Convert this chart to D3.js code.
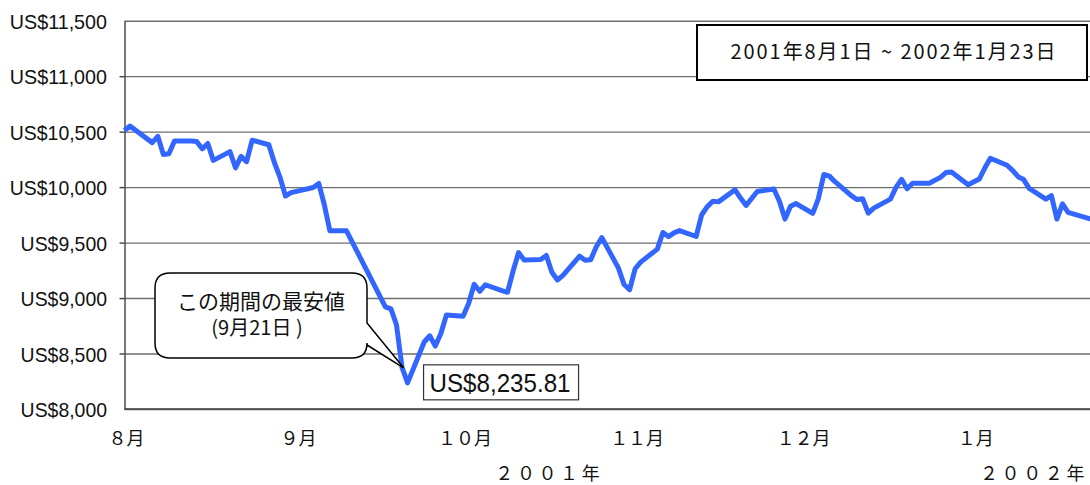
<!DOCTYPE html>
<html><head><meta charset="utf-8">
<script src="https://cdn.jsdelivr.net/npm/d3@7"></script>
<style>body{margin:0;overflow:hidden;background:#fff}</style>
</head><body><svg id="c" width="1090" height="485"></svg>
<script>
// ---- data ----
const dates = [
"2001-08-01","2001-08-02","2001-08-03","2001-08-06","2001-08-07","2001-08-08","2001-08-09","2001-08-10",
"2001-08-13","2001-08-14","2001-08-15","2001-08-16","2001-08-17","2001-08-20","2001-08-21","2001-08-22",
"2001-08-23","2001-08-24","2001-08-27","2001-08-28","2001-08-29","2001-08-30","2001-08-31",
"2001-09-04","2001-09-05","2001-09-06","2001-09-07","2001-09-10","2001-09-17","2001-09-18","2001-09-19",
"2001-09-20","2001-09-21","2001-09-24","2001-09-25","2001-09-26","2001-09-27","2001-09-28",
"2001-10-01","2001-10-02","2001-10-03","2001-10-04","2001-10-05","2001-10-08","2001-10-09","2001-10-10",
"2001-10-11","2001-10-12","2001-10-15","2001-10-16","2001-10-17","2001-10-18","2001-10-19","2001-10-22",
"2001-10-23","2001-10-24","2001-10-25","2001-10-26","2001-10-29","2001-10-30","2001-10-31",
"2001-11-01","2001-11-02","2001-11-05","2001-11-06","2001-11-07","2001-11-08","2001-11-09","2001-11-12",
"2001-11-13","2001-11-14","2001-11-15","2001-11-16","2001-11-19","2001-11-20","2001-11-21","2001-11-23",
"2001-11-26","2001-11-27","2001-11-28","2001-11-29","2001-11-30",
"2001-12-03","2001-12-04","2001-12-05","2001-12-06","2001-12-07","2001-12-10","2001-12-11","2001-12-12",
"2001-12-13","2001-12-14","2001-12-17","2001-12-18","2001-12-19","2001-12-20","2001-12-21","2001-12-24",
"2001-12-26","2001-12-27","2001-12-28","2001-12-31",
"2002-01-02","2002-01-03","2002-01-04","2002-01-07","2002-01-08","2002-01-09","2002-01-10","2002-01-11",
"2002-01-14","2002-01-15","2002-01-16","2002-01-17","2002-01-18","2002-01-22","2002-01-23"
];
const values = [
10510,10551,10513,10401,10458,10294,10300,10416,
10416,10412,10345,10393,10241,10320,10174,10277,
10229,10423,10382,10222,10091,9920,9950,
9997,10033,9841,9606,9606,8921,8903,8759,
8376,8235.81,8604,8660,8567,8681,8848,
8837,8951,9124,9061,9120,9068,9052,9241,
9410,9344,9348,9384,9233,9163,9204,9377,
9340,9346,9463,9545,9270,9122,9075,
9264,9324,9441,9591,9554,9588,9608,9555,
9751,9824,9872,9867,9976,9901,9835,9960,
9983,9873,9712,9827,9852,
9764,9894,10114,10099,10049,9921,9888,9895,
9766,9811,9892,9998,10070,9985,10035,10035,
10088,10131,10137,10022,
10073,10172,10260,10197,10151,10094,10068,9988,
9891,9924,9712,9850,9772,9714,9731
];
const monthTicks = ["2001-08-01","2001-09-01","2001-10-01","2001-11-01","2001-12-01","2002-01-01"];
const monthLabels = ["８月","９月","１０月","１１月","１２月","１月"];
const yearStarts = ["2001-08-01","2002-01-01"];
const yearEnds = ["2001-12-31","2002-01-23"];
const yearLabels = ["２００１年","２００２年"];
const yTicks = [8000,8500,9000,9500,10000,10500,11000,11500];
const yTickLabels = ["US$8,000","US$8,500","US$9,000","US$9,500","US$10,000","US$10,500","US$11,000","US$11,500"];
const lowDate = "2001-09-21";
const lowValue = 8235.81;
const lowLabel = "US$8,235.81";
const calloutLines = ["この期間の最安値","(9月21日 )"];
const periodText = "2001年8月1日 ~ 2002年1月23日";

// ---- layout ----
const parse = d3.utcParse("%Y-%m-%d");
const pLeft = 124.5, pRight = 1095.8, pTop = 20.7, pBottom = 409;
const x = d3.scaleUtc().domain([parse(dates[0]), parse(dates[dates.length-1])]).range([pLeft, pRight]);
const y = d3.scaleLinear().domain([8000, 11500]).range([pBottom, pTop]);
const svg = d3.select("#c");
const yFont = "'Liberation Sans', Arial, sans-serif";
const jFont = "'Noto Sans CJK JP', sans-serif";

// gridlines
svg.append("g").attr("transform", `translate(${pLeft},0)`)
  .call(d3.axisLeft(y).tickValues(yTicks).tickSize(-(pRight - pLeft)).tickFormat(""))
  .call(g => g.select(".domain").remove())
  .call(g => g.selectAll("line").attr("stroke", "#6e6e6e").attr("stroke-width", 1.4));

// y axis with outward ticks and labels
const yAxis = svg.append("g").attr("transform", `translate(${pLeft},0)`)
  .call(d3.axisLeft(y).tickValues(yTicks).tickSize(5).tickPadding(12).tickSizeOuter(0)
    .tickFormat((d, i) => yTickLabels[i]));
yAxis.select(".domain").attr("stroke", "#404040").attr("stroke-width", 1.4);
yAxis.selectAll(".tick line").attr("stroke", "#404040").attr("stroke-width", 1.4)
  .attr("x2", d => (d === 8000 || d === 11500) ? 0 : -5);
yAxis.selectAll(".tick text")
  .attr("font-family", yFont).attr("font-size", 21).attr("fill", "#111")
  .attr("x", 107 - pLeft).attr("dy", "0.36em")
  .attr("textLength", (d, i) => yTickLabels[i].length * 10.8)
  .attr("lengthAdjust", "spacingAndGlyphs");

// x axis line
svg.append("line").attr("x1", pLeft).attr("x2", 1090).attr("y1", pBottom).attr("y2", pBottom)
  .attr("stroke", "#404040").attr("stroke-width", 1.5);

// month labels
svg.append("g").selectAll("text").data(monthTicks).join("text")
  .attr("x", d => x(parse(d)) + 2).attr("y", 445)
  .attr("text-anchor", "middle").attr("font-family", jFont).attr("font-size", 18).attr("fill", "#111")
  .text((d, i) => monthLabels[i]);

// year labels
svg.append("g").selectAll("text").data(yearStarts).join("text")
  .attr("x", (d, i) => Math.min((x(parse(d)) + x(parse(yearEnds[i]))) / 2 + 3, 1034))
  .attr("y", 480)
  .attr("text-anchor", "middle").attr("font-family", jFont).attr("font-size", 18)
  .attr("letter-spacing", 3.6).attr("fill", "#111")
  .text((d, i) => yearLabels[i]);

// series line
const line = d3.line().x((d, i) => x(parse(dates[i]))).y(d => y(d));
svg.append("path").datum(values).attr("d", line)
  .attr("fill", "none").attr("stroke", "#3366ff").attr("stroke-width", 5)
  .attr("stroke-linejoin", "round");

// callout bubble
const lx = x(parse(lowDate)), ly = y(lowValue);
const L = 155, T = 273, R = 367, B = 358, r = 15;
const tipX = lx - 4, tipY = ly - 15, ty1 = 323, ty2 = 345;
const p = `M${L + r},${T} H${R - r} Q${R},${T} ${R},${T + r} V${ty1} L${tipX},${tipY} L${R},${ty2} V${B - r} Q${R},${B} ${R - r},${B} H${L + r} Q${L},${B} ${L},${B - r} V${T + r} Q${L},${T} ${L + r},${T} Z`;
svg.append("path").attr("d", p).attr("fill", "#fff").attr("stroke", "#000").attr("stroke-width", 1.5);
const ct = svg.append("text").attr("text-anchor", "middle")
  .attr("font-family", jFont).attr("fill", "#111");
ct.append("tspan").attr("x", 261).attr("y", 309).attr("font-size", 21).text(calloutLines[0]);
ct.append("tspan").attr("x", 257).attr("y", 335).attr("font-size", 20).text(calloutLines[1]);

// low value label
svg.append("rect").attr("x", lx + 16).attr("y", ly - 18).attr("width", 155).attr("height", 35)
  .attr("fill", "#fff").attr("stroke", "#333").attr("stroke-width", 1.2);
svg.append("text").attr("x", lx + 22).attr("y", ly + 9)
  .attr("font-family", yFont).attr("font-size", 25).attr("fill", "#111")
  .attr("textLength", 141).attr("lengthAdjust", "spacingAndGlyphs").text(lowLabel);

// period box
svg.append("rect").attr("x", 697).attr("y", 25).attr("width", 390).attr("height", 55)
  .attr("fill", "#fff").attr("stroke", "#000").attr("stroke-width", 2);
svg.append("text").attr("x", 893).attr("y", 59).attr("text-anchor", "middle")
  .attr("font-family", jFont).attr("font-size", 20).attr("fill", "#111")
  .attr("textLength", 325).attr("lengthAdjust", "spacing").text(periodText);
</script></body></html>
